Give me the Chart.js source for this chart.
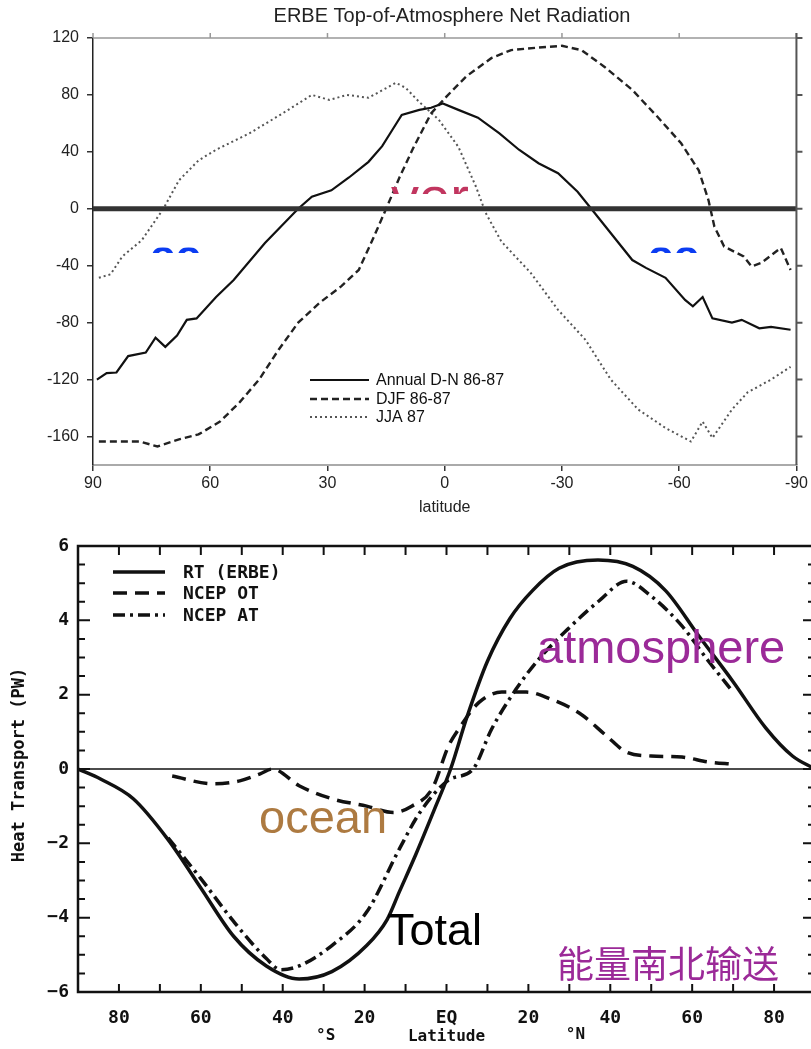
<!DOCTYPE html>
<html>
<head>
<meta charset="utf-8">
<script src="https://cdn.jsdelivr.net/npm/chart.js@4.4.0/dist/chart.umd.min.js"></script>
<style>
  html, body { margin: 0; padding: 0; background: #fff; overflow: hidden; }
  canvas { position: absolute; left: 0; display: block; }
  #radiation { top: 0; }
  #transport { top: 525px; }
</style>
</head>
<body>
<canvas id="radiation" width="811" height="525"></canvas>
<canvas id="transport" width="820" height="524"></canvas>
<script>
	"use strict";

	// ERBE net radiation at top of atmosphere (W/m2), latitude north -> south
	var annualLat = [89, 86.5, 84, 81, 76.5, 74, 71.5, 68.5, 66, 63.5, 58.5, 54, 46, 37.5, 34, 29, 24.5, 19.5, 16, 13.5, 11, 6.5, 3.5, 0.5,
		-3.5, -8.5, -14, -19, -24, -29, -34, -37.5, -48, -51.5, -56.5, -61.5, -63.5, -66, -68.5, -73.5, -76, -80.5, -83.5, -88.5];
	var annualVal = [-120, -115.5, -115, -103.5, -101, -90.5, -97, -89, -78, -77, -62, -50, -24, 0, 8.5, 13, 22, 33, 44, 55, 66, 69.5, 71, 74,
		69.5, 64, 53, 41.5, 32, 25, 12, 0, -36, -41.5, -48.5, -64, -68.5, -62, -77, -80, -78, -84, -83, -85];

	var djfLat = [88.5, 78, 73.5, 68, 63, 57.5, 52.5, 47.5, 42.5, 37.5, 32, 26.5, 22, 18.5, 15, 11.5, 8, 3.5, -0.5,
		-5.5, -12, -17, -25, -30, -35, -41, -48, -54.5, -60.5, -65, -67.5, -69, -71.5, -76.5, -78.5, -81, -86, -88.5];
	var djfVal = [-163.5, -163.5, -167, -162, -158.5, -149.5, -136, -120, -99, -80, -66, -54.5, -43, -22, 0, 22.5, 43, 67, 79,
		93, 106, 111.5, 113.5, 114.5, 111.5, 99.5, 83.5, 64.5, 46, 27, 6, -12.5, -26.5, -33.5, -40.5, -38, -27.5, -43];

	var jjaLat = [88.5, 85.5, 82.5, 77.5, 72, 68, 63, 58.5, 50, 41.5, 34, 29.5, 25, 19.5, 12.5, 10, 6.5, 1.5,
		-3.5, -8, -10.5, -14.5, -22, -29, -36, -42.5, -49.5, -56.5, -63, -66, -68.5, -73.5, -77.5, -83.5, -88.5];
	var jjaVal = [-48.5, -46, -33.5, -22, 0, 20, 34, 41.5, 53, 67, 80, 76.5, 80, 78, 88.5, 85, 75, 62.5,
		43.5, 15.5, -3, -23, -45, -71, -92, -120, -141, -154, -163.5, -149.5, -161, -141, -129, -120, -111];

	var radiationTicks = [-160, -120, -80, -40, 0, 40, 80, 120];
	var radiationLatTicks = [90, 60, 30, 0, -30, -60, -90];

	// meridional heat transport (PW), latitude south -> north
	var rtLat = [-90, -84.5, -76.5, -68, -60, -52, -44, -36, -28, -19.5, -14.5, -11.5, -7.5, -3, 1, 5, 10, 15.5, 21, 27.5, 37, 45.5, 53.5, 61.5, 70, 78, 84.5, 90];
	var rtVal = [0, -0.27, -0.8, -1.9, -3.2, -4.5, -5.3, -5.65, -5.45, -4.75, -4.05, -3.3, -2.3, -1.1, 0, 1.4, 2.9, 4.05, 4.8, 5.4, 5.62, 5.45, 4.8, 3.6, 2.35, 1.1, 0.35, 0];

	var otLat = [-67, -57, -50.5, -45.5, -42.5, -36, -28, -19.5, -13, -8.5, -3.5, 0.5, 3, 8, 13.5, 19.5, 25, 32.5, 39, 44, 50, 57.5, 64, 70];
	var otVal = [-0.19, -0.4, -0.32, -0.13, 0, -0.45, -0.8, -1.0, -1.17, -1.0, -0.53, 0.62, 1.08, 1.8, 2.07, 2.07, 1.9, 1.5, 0.9, 0.45, 0.35, 0.32, 0.19, 0.13];

	var atLat = [-68, -60, -52, -44, -40.5, -36, -28, -19.5, -11.5, -6.5, 0.5, 6.5, 11, 17, 22.5, 29.5, 37, 44, 50, 57.5, 64, 70];
	var atVal = [-1.85, -2.95, -4.1, -5.1, -5.4, -5.3, -4.75, -3.85, -2.15, -1.17, -0.3, 0, 1.07, 2.15, 2.95, 3.75, 4.5, 5.05, 4.65, 3.85, 2.9, 2.07];

	var transportTicks = [-6, -4, -2, 0, 2, 4, 6];
	var transportLatTicks = [-80, -60, -40, -20, 0, 20, 40, 60, 80];

	var sans = '"Liberation Sans", Arial, sans-serif';
	var mono = '"DejaVu Sans Mono", "Liberation Mono", monospace';

	function pairs(xs, ys) {
		return xs.map(function(x, i) {
			return { x: x, y: ys[i] };
		});
	}

	function fixedTicks(list) {
		return function(scale) {
			scale.ticks = list.map(function(v) {
				return { value: v };
			});
		};
	}

	// top slice of a word that runs off the edge of a pasted label
	function clippedWord(ctx, text, x, baseline, font, color, clipTop, clipBottom) {
		ctx.save();
		ctx.beginPath();
		ctx.rect(x - 10, clipTop, 220, clipBottom - clipTop);
		ctx.clip();
		ctx.font = font;
		ctx.fillStyle = color;
		ctx.textAlign = "left";
		ctx.textBaseline = "alphabetic";
		ctx.fillText(text, x, baseline);
		ctx.restore();
	}

	function legendRows(ctx, datasets, x0, x1, textX, rowsY, font) {
		datasets.forEach(function(ds, i) {
			ctx.save();
			ctx.strokeStyle = ds.borderColor;
			ctx.lineWidth = ds.borderWidth;
			ctx.setLineDash(ds.borderDash || []);
			ctx.beginPath();
			ctx.moveTo(x0, rowsY[i]);
			ctx.lineTo(x1, rowsY[i]);
			ctx.stroke();
			ctx.restore();
			ctx.fillStyle = "#111";
			ctx.font = font;
			ctx.textAlign = "left";
			ctx.textBaseline = "middle";
			ctx.fillText(ds.label, textX, rowsY[i] + 1);
		});
	}

	var radiationDecor = {
		id: "radiationDecor",
		afterDatasetsDraw: function(chart) {
			var ctx = chart.ctx, a = chart.chartArea;
			var y0 = chart.scales.y.getPixelForValue(0);
			ctx.save();
			ctx.strokeStyle = "#333";
			ctx.lineWidth = 5;
			ctx.beginPath();
			ctx.moveTo(a.left, y0);
			ctx.lineTo(a.right, y0);
			ctx.stroke();
			ctx.restore();
		},
		afterDraw: function(chart) {
			var ctx = chart.ctx, a = chart.chartArea;
			var xs = chart.scales.x, ys = chart.scales.y;

			ctx.save();
			// top and right edges of the box, with outward ticks
			ctx.strokeStyle = "#999";
			ctx.lineWidth = 1.5;
			ctx.beginPath();
			ctx.moveTo(a.left, a.top);
			ctx.lineTo(a.right, a.top);
			radiationLatTicks.forEach(function(v) {
				var px = xs.getPixelForValue(v);
				ctx.moveTo(px, a.top);
				ctx.lineTo(px, a.top - 5);
			});
			ctx.stroke();
			ctx.strokeStyle = "#555";
			ctx.lineWidth = 2;
			ctx.beginPath();
			ctx.moveTo(a.right, a.top - 5);
			ctx.lineTo(a.right, a.bottom);
			radiationTicks.forEach(function(v) {
				var py = ys.getPixelForValue(v);
				ctx.moveTo(a.right, py);
				ctx.lineTo(a.right + 6, py);
			});
			ctx.stroke();

			ctx.fillStyle = "#222";
			ctx.textAlign = "center";
			ctx.textBaseline = "middle";
			ctx.font = "20px " + sans;
			ctx.fillText("ERBE Top-of-Atmosphere Net Radiation", 452, 16);
			ctx.font = "16px " + sans;
			ctx.fillText("latitude", xs.getPixelForValue(0), a.bottom + 43);
			ctx.restore();

			legendRows(ctx, chart.data.datasets, 310, 369, 376, [380, 399, 417], "16px " + sans);

			clippedWord(ctx, "oo", 150, 270, "bold 42px " + sans, "#0b3cf2", 247.5, 253);
			clippedWord(ctx, "oo", 648, 270, "bold 42px " + sans, "#0b3cf2", 247.5, 253);
			clippedWord(ctx, "ver", 391, 216, "56px " + sans, "#c1355f", 186.5, 194);
		}
	};

	var transportDecor = {
		id: "transportDecor",
		beforeDatasetsDraw: function(chart) {
			var ctx = chart.ctx, a = chart.chartArea;
			var y0 = chart.scales.y.getPixelForValue(0);
			ctx.save();
			ctx.strokeStyle = "#111";
			ctx.lineWidth = 1.6;
			ctx.beginPath();
			ctx.moveTo(a.left, y0);
			ctx.lineTo(a.right, y0);
			ctx.stroke();
			ctx.restore();
		},
		afterDraw: function(chart) {
			var ctx = chart.ctx, a = chart.chartArea;
			var xs = chart.scales.x, ys = chart.scales.y;
			var k, px, py, len;

			ctx.save();
			ctx.strokeStyle = "#111";
			ctx.lineWidth = 2.5;
			ctx.strokeRect(a.left, a.top, a.right - a.left, a.bottom - a.top);

			// inward ticks: every 10 deg along the top and bottom, every 0.5 PW on the sides
			ctx.lineWidth = 2;
			ctx.beginPath();
			for (k = xs.min + 10; k < xs.max; k += 10) {
				px = xs.getPixelForValue(k);
				ctx.moveTo(px, a.top);
				ctx.lineTo(px, a.top + 9);
				ctx.moveTo(px, a.bottom);
				ctx.lineTo(px, a.bottom - 8);
			}
			for (k = ys.min * 2; k <= ys.max * 2; k++) {
				py = ys.getPixelForValue(k / 2);
				len = (k % 4 === 0) ? 12 : 7;
				ctx.moveTo(a.left, py);
				ctx.lineTo(a.left + len, py);
				ctx.moveTo(a.right, py);
				ctx.lineTo(a.right - len, py);
			}
			ctx.stroke();

			ctx.fillStyle = "#111";
			ctx.textAlign = "center";
			ctx.textBaseline = "middle";
			ctx.font = "bold 16px " + mono;
			ctx.fillText("°S", xs.getPixelForValue(-29.5), 511);
			ctx.fillText("Latitude", xs.getPixelForValue(0), 512);
			ctx.fillText("°N", xs.getPixelForValue(31.5), 510);

			ctx.save();
			ctx.translate(20, 240);
			ctx.rotate(-Math.PI / 2);
			ctx.font = "bold 17px " + mono;
			ctx.fillText("Heat Transport (PW)", 0, 0);
			ctx.restore();
			ctx.restore();

			legendRows(ctx, chart.data.datasets, 113, 165, 183, [47, 68, 90], "bold 18px " + mono);

			ctx.save();
			ctx.textAlign = "left";
			ctx.textBaseline = "alphabetic";
			ctx.font = "47px " + sans;
			ctx.fillStyle = "#9b2a98";
			ctx.fillText("atmosphere", 537, 138);
			ctx.fillStyle = "#ad7a41";
			ctx.fillText("ocean", 259, 308);
			ctx.font = "45px " + sans;
			ctx.fillStyle = "#000";
			ctx.fillText("Total", 387, 420);
			ctx.font = '37px "Noto Sans CJK SC", sans-serif';
			ctx.fillStyle = "#9b2a98";
			ctx.textBaseline = "middle";
			ctx.fillText("能量南北输送", 557, 439);
			ctx.restore();
		}
	};

	new Chart(document.getElementById("radiation"), {
		type: "line",
		data: {
			datasets: [{
				label: "Annual D-N 86-87",
				data: pairs(annualLat, annualVal),
				borderColor: "#111",
				borderWidth: 2.2
			}, {
				label: "DJF 86-87",
				data: pairs(djfLat, djfVal),
				borderColor: "#222",
				borderWidth: 2.4,
				borderDash: [7, 4]
			}, {
				label: "JJA 87",
				data: pairs(jjaLat, jjaVal),
				borderColor: "#555",
				borderWidth: 2,
				borderDash: [2, 3]
			}]
		},
		options: {
			responsive: false,
			animation: false,
			devicePixelRatio: 1,
			layout: { padding: { top: 38, right: 14, left: 0, bottom: 0 } },
			elements: { point: { radius: 0 }, line: { tension: 0 } },
			plugins: { legend: { display: false }, tooltip: { enabled: false } },
			scales: {
				x: {
					type: "linear",
					reverse: true,
					min: -90,
					max: 90,
					afterBuildTicks: fixedTicks(radiationLatTicks),
					afterFit: function(s) { s.height = 60; },
					grid: { drawOnChartArea: false, tickLength: 6, color: "#333", lineWidth: 1.5 },
					border: { color: "#aaa", width: 2 },
					ticks: {
						autoSkip: false,
						maxRotation: 0,
						padding: 3,
						color: "#222",
						font: { family: sans, size: 16 },
						callback: function(v) { return String(v); }
					}
				},
				y: {
					min: -180,
					max: 120,
					afterBuildTicks: fixedTicks(radiationTicks),
					afterFit: function(s) { s.width = 93; },
					grid: { drawOnChartArea: false, tickLength: 6, color: "#333", lineWidth: 1.5 },
					border: { color: "#222", width: 1.5 },
					ticks: {
						padding: 8,
						color: "#222",
						font: { family: sans, size: 16 },
						callback: function(v) { return String(v); }
					}
				}
			}
		},
		plugins: [radiationDecor]
	});

	new Chart(document.getElementById("transport"), {
		type: "line",
		data: {
			datasets: [{
				label: "RT (ERBE)",
				data: pairs(rtLat, rtVal),
				borderColor: "#111",
				borderWidth: 3.5
			}, {
				label: "NCEP OT",
				data: pairs(otLat, otVal),
				borderColor: "#111",
				borderWidth: 3.5,
				borderDash: [14, 8]
			}, {
				label: "NCEP AT",
				data: pairs(atLat, atVal),
				borderColor: "#111",
				borderWidth: 3.5,
				borderDash: [12, 5, 3, 5]
			}]
		},
		options: {
			responsive: false,
			animation: false,
			devicePixelRatio: 1,
			layout: { padding: { top: 21, right: 5, left: 0, bottom: 0 } },
			elements: { point: { radius: 0 }, line: { cubicInterpolationMode: "monotone" } },
			plugins: { legend: { display: false }, tooltip: { enabled: false } },
			scales: {
				x: {
					type: "linear",
					min: -90,
					max: 90,
					afterBuildTicks: fixedTicks(transportLatTicks),
					afterFit: function(s) { s.height = 57; },
					grid: { display: false, drawTicks: false },
					border: { display: false },
					ticks: {
						autoSkip: false,
						maxRotation: 0,
						padding: 16,
						color: "#111",
						font: { family: mono, size: 18, weight: "bold" },
						callback: function(v) { return v === 0 ? "EQ" : String(Math.abs(v)); }
					}
				},
				y: {
					min: -6,
					max: 6,
					afterBuildTicks: fixedTicks(transportTicks),
					afterFit: function(s) { s.width = 78; },
					grid: { display: false, drawTicks: false },
					border: { display: false },
					ticks: {
						padding: 9,
						color: "#111",
						font: { family: mono, size: 18, weight: "bold" },
						callback: function(v) { return v < 0 ? "\u2212" + Math.abs(v) : String(v); }
					}
				}
			}
		},
		plugins: [transportDecor]
	});
</script>
</body>
</html>
